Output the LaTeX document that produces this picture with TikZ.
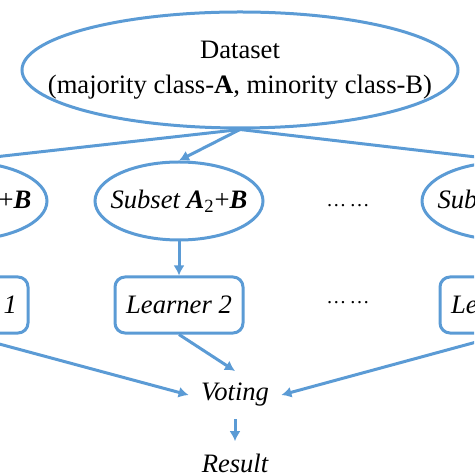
\documentclass[tikz,border=0pt]{standalone}
\usepackage{fontspec}
\setmainfont{Liberation Serif}
\usetikzlibrary{arrows.meta,shapes.geometric}
\definecolor{lineblue}{HTML}{5B9BD5}

\begin{document}
\begin{tikzpicture}[x=0.5pt,y=-0.5pt,
	>={Latex[length=5pt,width=5.5pt]},
	every node/.style={font=\fontsize{13.3}{17.5}\selectfont},
	conn/.style={lineblue,line width=1.5pt,->},
	datanode/.style={draw=lineblue,line width=1.5pt,ellipse,
		minimum width=218pt,minimum height=58pt,inner sep=0pt},
	subsetnode/.style={draw=lineblue,line width=1.5pt,ellipse,
		minimum width=84pt,minimum height=39pt,inner sep=0pt},
	subsettext/.style={font=\fontsize{13.3}{16}\selectfont\itshape},
	learnernode/.style={draw=lineblue,line width=1.5pt,rounded corners=5pt,
		minimum width=64pt,minimum height=28pt,
		font=\fontsize{13.3}{16}\selectfont\itshape},
	plainnode/.style={inner sep=6pt,font=\fontsize{13.3}{16}\selectfont\itshape},
	dotsnode/.style={anchor=base,inner sep=0pt,font=\fontsize{10}{10}\selectfont}]
	
	\clip (0,0) rectangle (474,474);
	
	% ======================================================
	% Dataset on top
	% ======================================================
	\node[datanode] (ds) at (240,70) {};
	\node[align=center] (dstext) at (ds)
	{Dataset\\(majority class-\textbf{A}, minority class-B)};
	
	% Subsets (outer ones are cut by the frame)
	\node[subsetnode,label={[subsettext]center:Subset \textbf{A}\textsubscript{\upshape 1}{\upshape +}\textbf{B}}]
	(a1) at (-37,201) {};
	\node[subsetnode,label={[subsettext]center:Subset \textbf{A}\textsubscript{\upshape 2}{\upshape +}\textbf{B}}]
	(a2) at (179,201) {};
	\node[subsetnode,label={[subsettext]center:Subset \textbf{A}\textsubscript{\upshape n}{\upshape +}\textbf{B}}]
	(an) at (506,201) {};
	\node[dotsnode] (dots1) at (348,207) {…\,…};
	
	% Learners
	\node[learnernode] (l1) at (-36,305) {Learner 1};
	\node[learnernode] (l2) at (179,305) {Learner 2};
	\node[learnernode] (ln) at (504,305) {Learner n};
	\node[dotsnode] (dots2) at (348,304) {…\,…};
	
	% Voting and result
	\node[plainnode] (vote) at (235,395) {Voting};
	\node[plainnode] (res) at (235,463) {Result};
	
	% ======================================================
	% Connectors
	% ======================================================
	\foreach \sub in {a1,a2,an}{
		\draw[conn] (ds.south) -- (\sub.north);
	}
	\foreach \sub/\lrn in {a1/l1,a2/l2,an/ln}{
		\draw[conn] (\sub.south) -- (\lrn.north);
	}
	\draw[conn] (l1.south) -- (vote.west);
	\draw[conn] (l2.south) -- (vote.north);
	\draw[conn] (ln.south) -- (vote.east);
	\draw[conn] (vote.south) -- (res.north);
	
\end{tikzpicture}
\end{document}
